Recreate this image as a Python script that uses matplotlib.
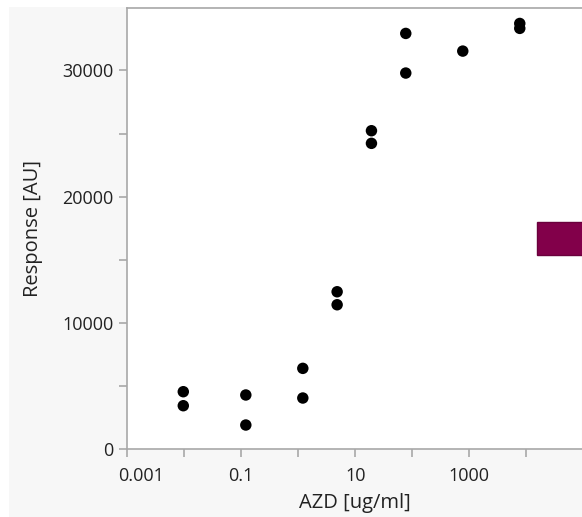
import numpy as np
import matplotlib.pyplot as plt
from matplotlib.patches import Rectangle
from matplotlib.ticker import FixedLocator, FuncFormatter
from matplotlib.transforms import ScaledTranslation

plt.rcParams['font.family'] = ['Open Sans', 'DejaVu Sans']

# dose (ug/ml) and response (AU), two replicates per dose where present
dose = [0.0096, 0.0096, 0.12, 0.12, 1.2, 1.2, 4.8, 4.8,
        19.2, 19.2, 76.8, 76.8, 768, 7680, 7680]
response = [4540, 3430, 4280, 1900, 6390, 4040, 12460, 11430,
            25220, 24220, 32930, 29790, 31530, 33720, 33330]

x_major = [1e-3, 1e-2, 1e-1, 1, 10, 100, 1000, 10000]
x_labeled = [1e-3, 1e-1, 10, 1000]
y_major = [0, 5000, 10000, 15000, 20000, 25000, 30000]
y_labeled = [0, 10000, 20000, 30000]

W, H = 582, 517
fig = plt.figure(figsize=(W / 100, H / 100), dpi=100)
fig.patch.set_facecolor('white')

# light panel behind everything
fig.patches.append(Rectangle((9 / W, -0.01), 1.01 - 9 / W, (H - 7) / H + 0.01,
                             transform=fig.transFigure, facecolor='#f7f7f7',
                             edgecolor='none', zorder=-10))

left, right, bottom, top = 127.3, 581.5, 449, 8
ax = fig.add_axes([left / W, (H - bottom) / H, (right - left) / W, (bottom - top) / H])
ax.set_facecolor('white')

ax.scatter(dose, response, s=68, color='black', edgecolors='none', zorder=3)

decade = 57.0
ax.set_xscale('log')
ax.set_xlim(1e-3, 10 ** (-3 + (right - left) / decade))
ax.set_ylim(0, 10000 * (bottom - top) / 126.2)

ax.xaxis.set_major_locator(FixedLocator(x_major))
ax.xaxis.set_minor_locator(FixedLocator([]))
ax.xaxis.set_major_formatter(FuncFormatter(
    lambda v, p: ('%g' % v) if any(abs(v - t) < t * 1e-6 for t in x_labeled) else ''))
ax.yaxis.set_major_locator(FixedLocator(y_major))
ax.yaxis.set_major_formatter(FuncFormatter(
    lambda v, p: '%d' % v if int(round(v)) in y_labeled else ''))

spine_color = '#a8a8a8'
for side in ['left', 'bottom', 'top']:
    ax.spines[side].set_color(spine_color)
    ax.spines[side].set_linewidth(1.2)
ax.spines['right'].set_color('#ececec')
ax.spines['right'].set_linewidth(0.8)

ax.tick_params(axis='both', direction='out', length=6, width=1.2,
               color=spine_color, labelsize=13, labelcolor='#222222')
ax.tick_params(axis='x', pad=7)
ax.tick_params(axis='y', pad=4)

# first x label sits to the right of its tick so it stays inside the panel
fig.canvas.draw()
first = ax.get_xticklabels()[0]
first.set_transform(first.get_transform() + ScaledTranslation(14 / 100, 0, fig.dpi_scale_trans))

ax.set_xlabel('AZD [ug/ml]', fontsize=14.5, color='#222222', labelpad=6)
ax.set_ylabel('Response [AU]', fontsize=14.5, color='#222222', labelpad=14)

# clipped legend swatch on the right edge
fig.patches.append(Rectangle((536.7 / W, (H - 255) / H), (W - 536.7 + 5) / W, 33.3 / H,
                             transform=fig.transFigure, facecolor='#82004a',
                             edgecolor='#6a003c', linewidth=1.0, zorder=5))

fig.savefig('out.png', dpi=100, facecolor=fig.get_facecolor())
